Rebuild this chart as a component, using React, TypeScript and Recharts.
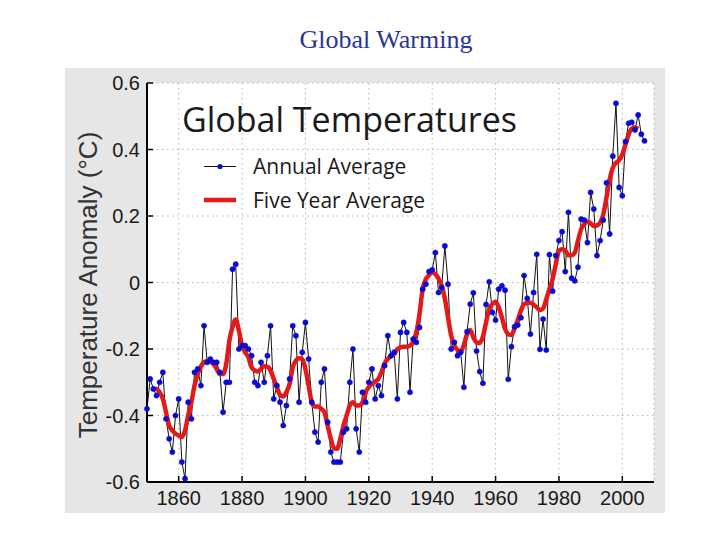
import React from 'react';
import { LineChart, Line, XAxis, YAxis, CartesianGrid } from 'recharts';

const years = [
  1850, 1851, 1852, 1853, 1854, 1855, 1856, 1857, 1858, 1859,
  1860, 1861, 1862, 1863, 1864, 1865, 1866, 1867, 1868, 1869,
  1870, 1871, 1872, 1873, 1874, 1875, 1876, 1877, 1878, 1879,
  1880, 1881, 1882, 1883, 1884, 1885, 1886, 1887, 1888, 1889,
  1890, 1891, 1892, 1893, 1894, 1895, 1896, 1897, 1898, 1899,
  1900, 1901, 1902, 1903, 1904, 1905, 1906, 1907, 1908, 1909,
  1910, 1911, 1912, 1913, 1914, 1915, 1916, 1917, 1918, 1919,
  1920, 1921, 1922, 1923, 1924, 1925, 1926, 1927, 1928, 1929,
  1930, 1931, 1932, 1933, 1934, 1935, 1936, 1937, 1938, 1939,
  1940, 1941, 1942, 1943, 1944, 1945, 1946, 1947, 1948, 1949,
  1950, 1951, 1952, 1953, 1954, 1955, 1956, 1957, 1958, 1959,
  1960, 1961, 1962, 1963, 1964, 1965, 1966, 1967, 1968, 1969,
  1970, 1971, 1972, 1973, 1974, 1975, 1976, 1977, 1978, 1979,
  1980, 1981, 1982, 1983, 1984, 1985, 1986, 1987, 1988, 1989,
  1990, 1991, 1992, 1993, 1994, 1995, 1996, 1997, 1998, 1999,
  2000, 2001, 2002, 2003, 2004, 2005, 2006, 2007,
];

const annualAverage = [
  -0.38, -0.29, -0.32, -0.34, -0.30, -0.27, -0.41, -0.47, -0.51, -0.40,
  -0.35, -0.54, -0.59, -0.36, -0.41, -0.27, -0.26, -0.31, -0.13, -0.24,
  -0.23, -0.24, -0.24, -0.27, -0.39, -0.30, -0.30, 0.04, 0.055, -0.20,
  -0.19, -0.19, -0.20, -0.22, -0.30, -0.31, -0.24, -0.30, -0.22, -0.13,
  -0.35, -0.31, -0.36, -0.43, -0.37, -0.29, -0.13, -0.16, -0.36, -0.21,
  -0.12, -0.23, -0.36, -0.45, -0.48, -0.30, -0.26, -0.42, -0.51, -0.54,
  -0.54, -0.54, -0.45, -0.44, -0.30, -0.20, -0.44, -0.51, -0.33, -0.36,
  -0.30, -0.26, -0.35, -0.31, -0.34, -0.25, -0.16, -0.22, -0.21, -0.35,
  -0.15, -0.12, -0.15, -0.33, -0.17, -0.18, -0.135, -0.02, -0.005, 0.033,
  0.038, 0.09, -0.03, -0.015, 0.11, -0.005, -0.20, -0.18, -0.22, -0.21,
  -0.315, -0.148, -0.065, -0.031, -0.206, -0.268, -0.303, -0.066, 0.002, -0.09,
  -0.113, -0.02, -0.01, -0.023, -0.291, -0.193, -0.133, -0.128, -0.106, 0.021,
  -0.048, -0.155, -0.03, 0.085, -0.201, -0.11, -0.203, 0.084, -0.026, 0.081,
  0.126, 0.153, 0.033, 0.211, 0.013, 0.005, 0.046, 0.191, 0.188, 0.12,
  0.271, 0.221, 0.081, 0.126, 0.188, 0.30, 0.146, 0.38, 0.539, 0.286,
  0.261, 0.424, 0.479, 0.482, 0.459, 0.504, 0.446, 0.426,
];

const fiveYearAverage = [
  null, null, -0.32, -0.32, -0.33, -0.35, -0.39, -0.43, -0.445, -0.455,
  -0.46, -0.465, -0.445, -0.40, -0.36, -0.31, -0.275, -0.253, -0.24, -0.236,
  -0.238, -0.245, -0.26, -0.275, -0.275, -0.245, -0.175, -0.133, -0.111, -0.145,
  -0.19, -0.21, -0.225, -0.255, -0.264, -0.268, -0.26, -0.252, -0.253, -0.265,
  -0.29, -0.315, -0.338, -0.343, -0.33, -0.305, -0.255, -0.235, -0.228, -0.23,
  -0.26, -0.31, -0.36, -0.373, -0.373, -0.38, -0.39, -0.43, -0.47, -0.498,
  -0.50, -0.47, -0.43, -0.40, -0.37, -0.36, -0.37, -0.37, -0.36, -0.33,
  -0.315, -0.305, -0.298, -0.29, -0.27, -0.243, -0.23, -0.222, -0.215, -0.20,
  -0.195, -0.193, -0.193, -0.19, -0.178, -0.15, -0.095, -0.02, 0.01, 0.022,
  0.031, 0.025, 0.012, -0.01, -0.048, -0.105, -0.16, -0.19, -0.203, -0.208,
  -0.188, -0.155, -0.143, -0.165, -0.18, -0.182, -0.163, -0.12, -0.08, -0.065,
  -0.058, -0.075, -0.105, -0.14, -0.155, -0.158, -0.138, -0.113, -0.085, -0.065,
  -0.062, -0.061, -0.066, -0.075, -0.083, -0.078, -0.05, -0.02, 0.01, 0.055,
  0.095, 0.10, 0.096, 0.082, 0.082, 0.09, 0.125, 0.16, 0.175, 0.183,
  0.178, 0.17, 0.172, 0.18, 0.205, 0.255, 0.31, 0.345, 0.36, 0.368,
  0.385, 0.415, 0.445, 0.463, 0.466, 0.462, null, null,
];

const xTicks = [1860, 1880, 1900, 1920, 1940, 1960, 1980, 2000];
const yTicks = [-0.6, -0.4, -0.2, 0, 0.2, 0.4, 0.6];
const yTickLabels = ['-0.6', '-0.4', '-0.2', '0', '0.2', '0.4', '0.6'];

const data = years.map((year, i) => ({
  year,
  annual: annualAverage[i],
  five: fiveYearAverage[i],
}));

const SANS = '"Liberation Sans", Arial, Helvetica, sans-serif';
const TICK_COLOR = '#1a1a1a';

const BottomTick = (props: any) => {
  const { x, y, payload } = props;
  return (
    <g>
      <line x1={x} y1={y} x2={x} y2={y - 6} stroke="#000" strokeWidth={1.5} />
      <text x={x} y={y + 23} textAnchor="middle" fontSize={20} fontFamily={SANS} fill={TICK_COLOR}>
        {payload.value}
      </text>
    </g>
  );
};

const LeftTick = (props: any) => {
  const { x, y, payload } = props;
  const idx = yTicks.indexOf(payload.value);
  const label = idx >= 0 ? yTickLabels[idx] : String(payload.value);
  return (
    <g>
      <line x1={x} y1={y} x2={x + 6} y2={y} stroke="#000" strokeWidth={1.5} />
      <text x={x - 7} y={y + 7} textAnchor="end" fontSize={20} fontFamily={SANS} fill={TICK_COLOR}>
        {label}
      </text>
    </g>
  );
};

const TopTick = (props: any) => {
  const { x, y } = props;
  return <line x1={x} y1={y} x2={x} y2={y + 6} stroke="#000" strokeWidth={1.5} />;
};

const RightTick = (props: any) => {
  const { x, y } = props;
  return <line x1={x} y1={y} x2={x - 6} y2={y} stroke="#000" strokeWidth={1.5} />;
};

export default function App() {
  return (
    <div style={{ position: 'absolute', left: 0, top: 0, width: 720, height: 540, background: '#fff' }}>
      <div
        style={{
          position: 'absolute',
          left: 386,
          top: 25,
          transform: 'translateX(-50%)',
          fontFamily: '"Liberation Serif", "Times New Roman", serif',
          fontSize: 26,
          color: '#2a3596',
          whiteSpace: 'nowrap',
          lineHeight: '30px',
        }}
      >
        Global Warming
      </div>
      <div style={{ position: 'absolute', left: 65, top: 68, width: 600, height: 445, background: '#e6e6e6' }} />
      <div style={{ position: 'absolute', left: 0, top: 0 }}>
        <LineChart width={720} height={540} data={data} margin={{ top: 83, right: 66, bottom: 0, left: 0 }}>
          <CartesianGrid
            xAxisId="B"
            yAxisId="L"
            fill="#ffffff"
            fillOpacity={1}
            stroke="#b4b4b4"
            strokeDasharray="1.5 3.5"
          />
          <XAxis
            xAxisId="B"
            dataKey="year"
            type="number"
            domain={[1850, 2010]}
            ticks={xTicks}
            height={58}
            axisLine={{ stroke: '#000', strokeWidth: 2 }}
            tickLine={false}
            tickSize={0}
            tickMargin={0}
            tick={BottomTick}
            interval={0}
          />
          <XAxis
            xAxisId="T"
            orientation="top"
            dataKey="year"
            type="number"
            domain={[1850, 2010]}
            ticks={xTicks}
            height={0}
            axisLine={{ stroke: '#000', strokeWidth: 2 }}
            tickLine={false}
            tickSize={0}
            tickMargin={0}
            tick={TopTick}
            interval={0}
          />
          <YAxis
            yAxisId="L"
            type="number"
            domain={[-0.6, 0.6]}
            ticks={yTicks}
            width={147}
            axisLine={{ stroke: '#000', strokeWidth: 2 }}
            tickLine={false}
            tickSize={0}
            tickMargin={0}
            tick={LeftTick}
            interval={0}
          />
          <YAxis
            yAxisId="R"
            orientation="right"
            type="number"
            domain={[-0.6, 0.6]}
            ticks={yTicks}
            width={0}
            axisLine={{ stroke: '#000', strokeWidth: 2 }}
            tickLine={false}
            tickSize={0}
            tickMargin={0}
            tick={RightTick}
            interval={0}
          />
          <Line
            xAxisId="B"
            yAxisId="L"
            type="linear"
            dataKey="annual"
            stroke="#111"
            strokeWidth={1}
            dot={{ r: 2.6, fill: '#0a0ad2', stroke: '#0a0ad2', strokeWidth: 0.5 }}
            isAnimationActive={false}
          />
          <Line
            xAxisId="B"
            yAxisId="L"
            type="monotone"
            dataKey="five"
            stroke="#e31a1c"
            strokeWidth={4.5}
            dot={false}
            isAnimationActive={false}
          />
        </LineChart>
      </div>
      <svg
        width={720}
        height={540}
        style={{ position: 'absolute', left: 0, top: 0, pointerEvents: 'none' }}
      >
        <text
          x={0}
          y={0}
          transform="translate(97 285) rotate(-90)"
          textAnchor="middle"
          fontSize={26}
          fontFamily={SANS}
          fill="#333"
        >
          Temperature Anomaly (°C)
        </text>
        <text x={182} y={132} fontSize={34} fontFamily='"Open Sans", "Noto Sans", sans-serif' fill="#1a1a1a">
          Global Temperatures
        </text>
        <line x1={204} y1={166.5} x2={236} y2={166.5} stroke="#111" strokeWidth={1} />
        <circle cx={220} cy={166.5} r={2.6} fill="#0a0ad2" />
        <text x={253} y={174} fontSize={21} fontFamily='"Open Sans", "Noto Sans", sans-serif' fill="#1a1a1a">
          Annual Average
        </text>
        <line x1={204} y1={200} x2={236} y2={200} stroke="#e31a1c" strokeWidth={4.5} />
        <text x={253} y={207.5} fontSize={21} fontFamily='"Open Sans", "Noto Sans", sans-serif' fill="#1a1a1a">
          Five Year Average
        </text>
      </svg>
    </div>
  );
}
